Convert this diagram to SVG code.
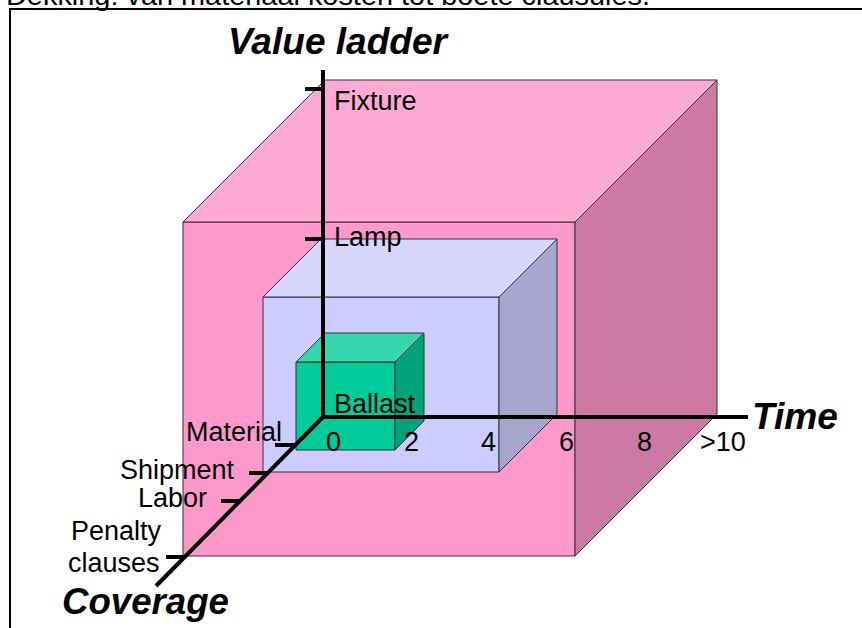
<svg xmlns="http://www.w3.org/2000/svg" width="862" height="628" viewBox="0 0 862 628">
<style>
.face{stroke:#333;stroke-width:1;stroke-linejoin:round}
.ax{stroke:#000;stroke-width:4;fill:none;stroke-linecap:butt}
.lbl{font-family:"Liberation Sans",Arial,sans-serif;font-size:27px;fill:#000}
.ttl{font-family:"Liberation Sans",Arial,sans-serif;font-size:36px;font-weight:bold;font-style:italic;fill:#000}
</style>
<rect width="862" height="628" fill="#fff"/>
<text class="lbl" x="6" y="5" font-size="24" textLength="644" lengthAdjust="spacingAndGlyphs">Dekking: van materiaal kosten tot boete clausules.</text>
<rect x="10" y="9" width="900" height="700" fill="none" stroke="#000" stroke-width="2"/>
<g id="outer-cube">
<polygon class="face" fill="#FF99CC" points="183,222 575,222 575,556 183,556"/>
<polygon class="face" fill="#FFAAD4" points="183,222 325,80 717,80 575,222"/>
<polygon class="face" fill="#CC79A3" points="575,222 717,80 717,414 575,556"/>
</g>
<g id="middle-cube">
<polygon class="face" fill="#CCCCFF" points="263,297 499,297 499,472 263,472"/>
<polygon class="face" fill="#D7D7FC" points="263,297 321,239 557,239 499,297"/>
<polygon class="face" fill="#A6A6CC" points="499,297 557,239 557,414 499,472"/>
</g>
<g id="inner-cube">
<polygon class="face" fill="#00CC99" points="296,362 395,362 395,450 296,450"/>
<polygon class="face" fill="#33D6AD" points="296,362 325,333 424,333 395,362"/>
<polygon class="face" fill="#00A37A" points="395,362 424,333 424,421 395,450"/>
</g>
<g id="axes">
<line class="ax" x1="323" y1="70" x2="323" y2="419"/>
<line class="ax" x1="321" y1="417" x2="748" y2="417"/>
<line class="ax" x1="324" y1="416" x2="156" y2="586"/>
<line class="ax" x1="305" y1="89" x2="323" y2="89"/>
<line class="ax" x1="305" y1="239" x2="323" y2="239"/>
<line class="ax" x1="275" y1="445" x2="294" y2="445"/>
<line class="ax" x1="249" y1="473" x2="267" y2="473"/>
<line class="ax" x1="221" y1="501" x2="239" y2="501"/>
<line class="ax" x1="166" y1="557" x2="184" y2="557"/>
</g>
<g id="labels">
<text class="ttl" x="228" y="54" textLength="219" lengthAdjust="spacingAndGlyphs">Value ladder</text>
<text class="ttl" x="752" y="429" textLength="86" lengthAdjust="spacingAndGlyphs">Time</text>
<text class="ttl" x="62" y="614" textLength="167" lengthAdjust="spacingAndGlyphs">Coverage</text>
<text class="lbl" x="334" y="110">Fixture</text>
<text class="lbl" x="334" y="246">Lamp</text>
<text class="lbl" x="334" y="413">Ballast</text>
<text class="lbl" x="186" y="441">Material</text>
<text class="lbl" x="326" y="451">0</text>
<text class="lbl" x="404" y="451">2</text>
<text class="lbl" x="481" y="451">4</text>
<text class="lbl" x="559" y="451">6</text>
<text class="lbl" x="637" y="451">8</text>
<text class="lbl" x="700" y="451">&gt;10</text>
<text class="lbl" x="120" y="479">Shipment</text>
<text class="lbl" x="138" y="507">Labor</text>
<text class="lbl" x="71" y="540">Penalty</text>
<text class="lbl" x="68" y="572">clauses</text>
</g>
</svg>
